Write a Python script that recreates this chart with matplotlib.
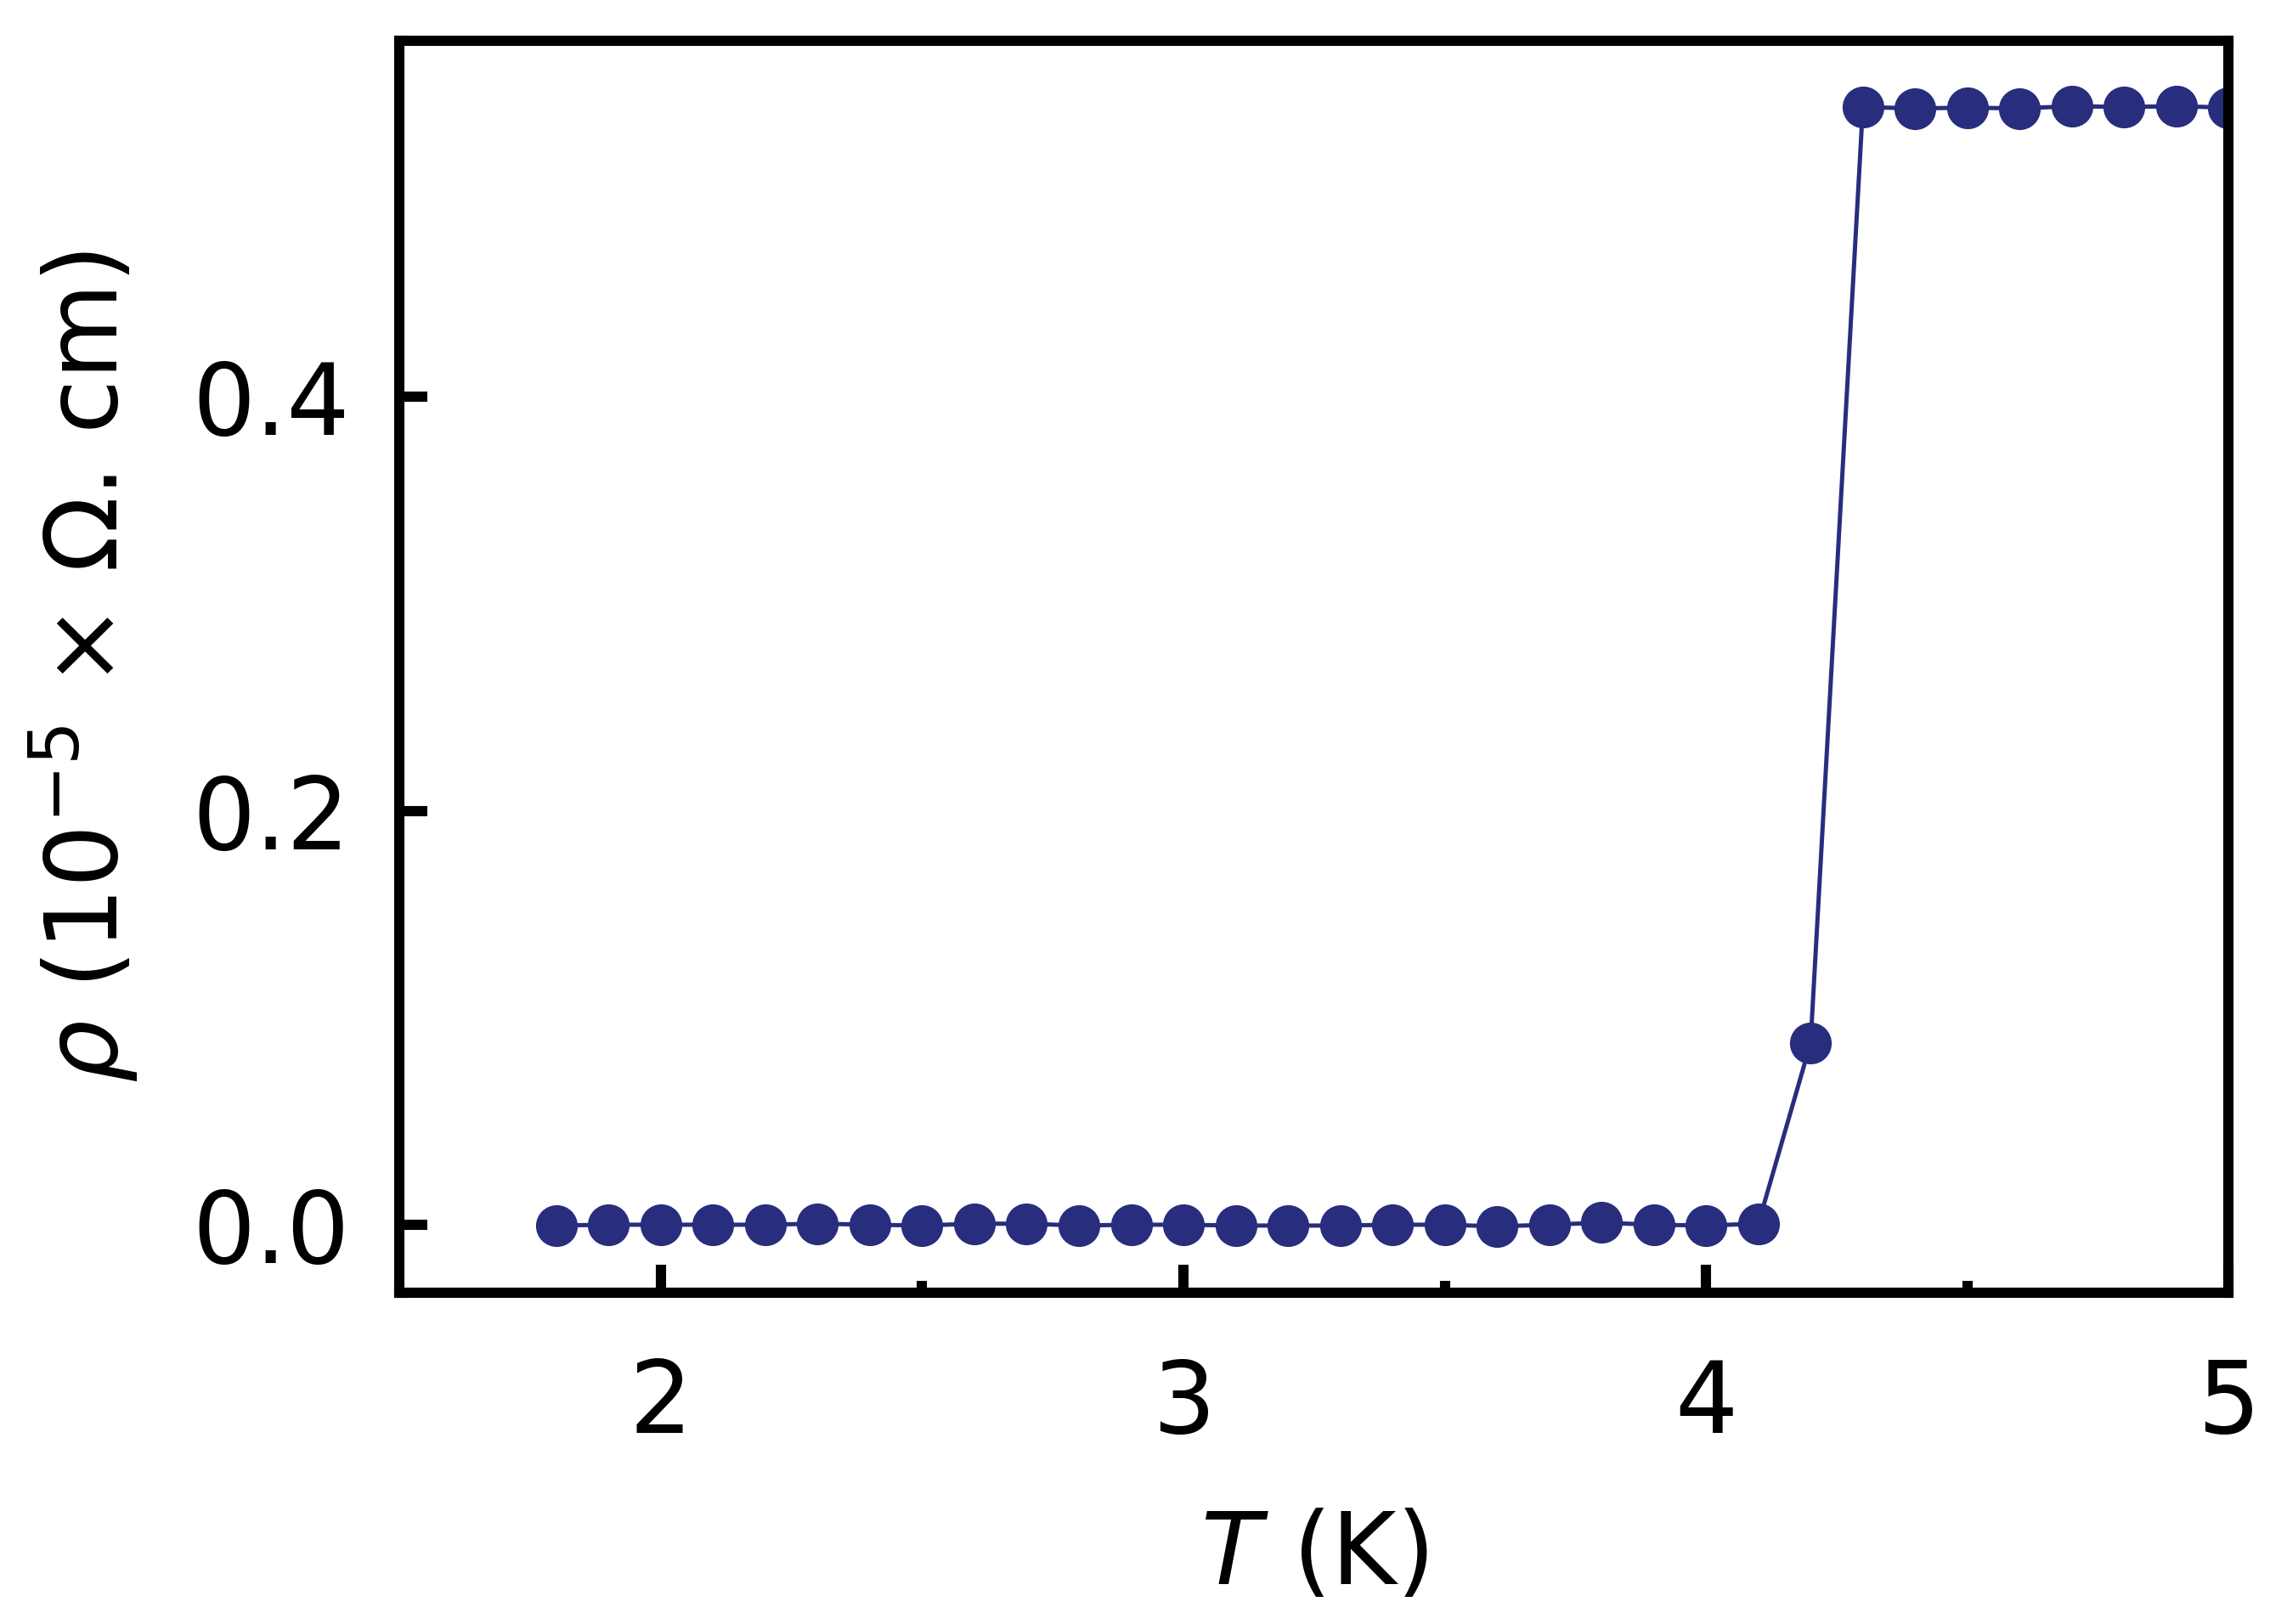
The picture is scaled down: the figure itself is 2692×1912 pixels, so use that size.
import matplotlib
matplotlib.use("Agg")
import matplotlib.pyplot as plt
from matplotlib.ticker import MultipleLocator

# datos
temp_bajo = [1.8, 1.9, 2.0, 2.1, 2.2, 2.3, 2.4, 2.5, 2.6, 2.7, 2.8, 2.9,
             3.0, 3.1, 3.2, 3.3, 3.4, 3.5, 3.6, 3.7, 3.8, 3.9, 4.0, 4.1]
rho_bajo = [-0.0004, 0.0, 0.0, 0.0, 0.0, 0.0005, 0.0, -0.0004, 0.0005, 0.0005,
            -0.0004, 0.0, 0.0, -0.0004, -0.0004, -0.0004, 0.0, 0.0, -0.0008, 0.0,
            0.001, 0.0, -0.0004, 0.0005]
temp_trans = [4.2]
rho_trans = [0.0878]
temp_alto = [4.3, 4.4, 4.5, 4.6, 4.7, 4.8, 4.9, 5.0]
rho_alto = [0.5400, 0.5393, 0.5397, 0.5393, 0.5404, 0.5400, 0.5404, 0.5397]

temp = temp_bajo + temp_trans + temp_alto
rho = rho_bajo + rho_trans + rho_alto

color = '#282d7d'

fig = plt.figure(figsize=(2692 / 300, 1912 / 300), dpi=300)
ax = fig.add_axes([0.1747, 0.2038, 0.7998, 0.7711])

ax.plot(temp, rho, color=color, lw=1.2, marker='o', markersize=10.8,
        markerfacecolor=color, markeredgecolor=color)

ax.set_xlim(1.5, 5.0)
ax.set_ylim(-0.033, 0.572)
ax.xaxis.set_major_locator(MultipleLocator(1))
ax.xaxis.set_minor_locator(MultipleLocator(0.5))
ax.set_yticks([0.0, 0.2, 0.4])
ax.set_yticklabels(['0.0', '0.2', '0.4'])

for s in ax.spines.values():
    s.set_linewidth(2.9)

ax.tick_params(axis='both', which='major', direction='in', length=8, width=2.9,
               labelsize=28)
ax.tick_params(axis='x', which='major', pad=18)
ax.tick_params(axis='y', which='major', pad=14)
ax.tick_params(axis='x', which='minor', direction='in', length=3.4, width=2.9)

ax.set_xlabel(r'$T$ (K)', fontsize=28, labelpad=15)
ax.set_ylabel(r'$\rho$ (10$^{-5}$ × Ω. cm)', fontsize=28, labelpad=15)

fig.savefig('out.png', dpi=300)
